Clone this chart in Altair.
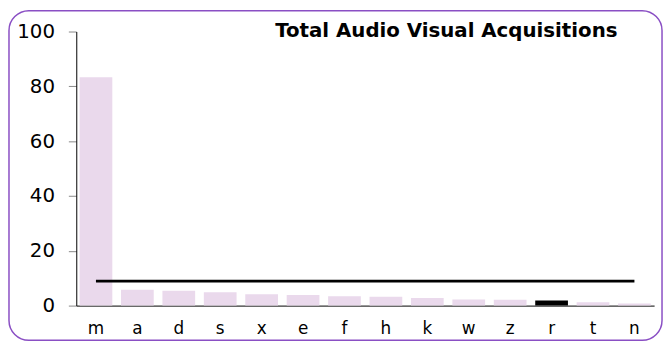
import altair as alt
import pandas as pd

categories = ["m", "a", "d", "s", "x", "e", "f", "h", "k", "w", "z", "r", "t", "n"]
values = [83.3, 5.8, 5.4, 4.85, 4.1, 3.9, 3.4, 3.2, 2.8, 2.2, 2.1, 1.9, 1.2, 0.8]
highlight = "r"
title_text = "Total Audio Visual Acquisitions"
y_ticks = [0, 20, 40, 60, 80, 100]

df = pd.DataFrame({"cat": categories, "value": values})

W, H = 584, 277
PAD_L, PAD_T, PAD_R, PAD_B = 69, 22, 10, 36

x_enc = alt.X("cat:N", sort=categories,
              scale=alt.Scale(paddingInner=0.21, paddingOuter=0.08),
              axis=alt.Axis(title=None, labelAngle=0, ticks=False, domainColor="black",
                            labelFont="DejaVu Sans", labelFontSize=17, labelColor="black",
                            labelPadding=15))
y_enc = alt.Y("value:Q", scale=alt.Scale(domain=[0, 100], nice=False),
              axis=alt.Axis(title=None, values=y_ticks, grid=False, domainColor="black",
                            tickColor="#888888", tickSize=8, labelPadding=14,
                            labelFont="DejaVu Sans", labelFontSize=20, labelColor="black"))

base = alt.Chart(df)

bars = base.mark_bar().encode(
    x=x_enc,
    y=y_enc,
    color=alt.condition(alt.datum.cat == highlight, alt.value("black"), alt.value("#ead9ec")),
)

avg_line = base.transform_joinaggregate(avg="mean(value)").mark_line(
    color="black", strokeWidth=2.6
).encode(
    x=alt.X("cat:N", sort=categories),
    y="avg:Q",
)

title = alt.Chart(pd.DataFrame({"t": [title_text]})).mark_text(
    font="DejaVu Sans", fontSize=20, fontWeight="bold", color="black",
    align="center", baseline="middle",
).encode(x=alt.value(374), y=alt.value(0), text="t:N")

border = alt.Chart(pd.DataFrame({"k": [0]})).mark_rect(
    fill=None, stroke="#8a4fc4", strokeWidth=1.5, cornerRadius=20, clip=False
).encode(
    x=alt.value(-PAD_L + 1), x2=alt.value(W + PAD_R - 2),
    y=alt.value(-PAD_T + 1), y2=alt.value(H + PAD_B - 1),
)

chart = alt.layer(border, bars, avg_line, title).properties(
    width=W, height=H,
    background="white",
    autosize=alt.AutoSizeParams(type="none"),
    padding={"left": PAD_L, "top": PAD_T, "right": PAD_R, "bottom": PAD_B},
).configure_view(strokeWidth=0)

chart.save("out.html", embed_options={"renderer": "svg", "actions": False})
